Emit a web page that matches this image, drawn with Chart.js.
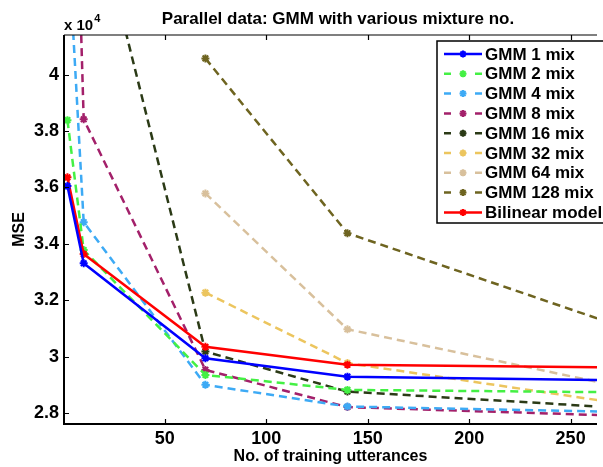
<!DOCTYPE html>
<html>
<head>
<meta charset="utf-8">
<script src="https://cdn.jsdelivr.net/npm/chart.js@4/dist/chart.umd.min.js"></script>
<style>
  html, body { margin: 0; padding: 0; background: #fff; overflow: hidden; }
  #wrap { width: 603px; height: 467px; }
</style>
</head>
<body>
<div id="wrap"><canvas id="mseChart" width="603" height="467"></canvas></div>
<script>
// No. of training utterances
const xValues = [2, 10, 70, 140, 280];
const yTickValues = [28000, 30000, 32000, 34000, 36000, 38000, 40000];

// MSE values (x 10^4 shown on axis)
const gmm1 = [36050, 33310, 29940, 29290, 29150];
const gmm2 = [38390, 33780, 29350, 28820, 28730];
const gmm4 = [45200, 34770, 29000, 28230, 28030];
const gmm8 = [58000, 38420, 29530, 28210, 27890];
const gmm16 = [51000, 47500, 30180, 28760, 28160];
const gmm32 = [null, null, 32270, 29770, 28280];
const gmm64 = [null, null, 35790, 30970, 28850];
const gmm128 = [null, null, 40580, 34380, 30940];
const bilinear = [36360, 33640, 30350, 29710, 29610];

const seriesLabels = ['GMM 1 mix', 'GMM 2 mix', 'GMM 4 mix', 'GMM 8 mix', 'GMM 16 mix',
                      'GMM 32 mix', 'GMM 64 mix', 'GMM 128 mix', 'Bilinear model'];
const seriesData = [gmm1, gmm2, gmm4, gmm8, gmm16, gmm32, gmm64, gmm128, bilinear];
const seriesColors = ['#0000ff', '#44f044', '#3daaf5', '#a3206a', '#2b3a16',
                      '#ecc55e', '#d8c09c', '#6e6420', '#ff0000'];
const seriesDashed = [false, true, true, true, true, true, true, true, false];

const chartTitle = 'Parallel data: GMM with various mixture no.';
const FONT = '"Liberation Sans", Arial, Helvetica, sans-serif';

function drawStar(ctx, cx, cy, r) {
    ctx.beginPath();
    ctx.moveTo(cx - r, cy); ctx.lineTo(cx + r, cy);
    ctx.moveTo(cx, cy - r); ctx.lineTo(cx, cy + r);
    const d = r * 0.72;
    ctx.moveTo(cx - d, cy - d); ctx.lineTo(cx + d, cy + d);
    ctx.moveTo(cx - d, cy + d); ctx.lineTo(cx + d, cy - d);
    ctx.stroke();
}

// matlab style frame, inward ticks, title, exponent and legend box
const framePlugin = {
    id: 'frame',
    afterDraw(chart) {
        const { ctx, chartArea: a, scales: { x, y } } = chart;
        ctx.save();
        ctx.strokeStyle = '#000';
        ctx.lineWidth = 2;
        ctx.setLineDash([]);
        ctx.beginPath();
        ctx.moveTo(a.left, a.top); ctx.lineTo(a.left, a.bottom); ctx.lineTo(a.right, a.bottom);
        ctx.stroke();
        ctx.lineWidth = 1.2;
        ctx.beginPath();
        ctx.moveTo(a.left, a.top); ctx.lineTo(a.right, a.top);
        x.ticks.forEach(t => {
            const px = Math.round(x.getPixelForValue(t.value)) + 0.5;
            ctx.moveTo(px, a.bottom); ctx.lineTo(px, a.bottom - 5);
            ctx.moveTo(px, a.top); ctx.lineTo(px, a.top + 5);
        });
        y.ticks.forEach(t => {
            const py = Math.round(y.getPixelForValue(t.value)) + 0.5;
            ctx.moveTo(a.left, py); ctx.lineTo(a.left + 5, py);
        });
        ctx.stroke();

        ctx.fillStyle = '#000';
        // title
        ctx.textAlign = 'center';
        ctx.textBaseline = 'alphabetic';
        ctx.font = 'bold 17px ' + FONT;
        ctx.fillText(chartTitle, 338, 24);

        // x 10^4
        ctx.textAlign = 'left';
        ctx.font = 'bold 15px ' + FONT;
        ctx.fillText('x 10', 64, 30);
        const w = ctx.measureText('x 10').width;
        ctx.font = 'bold 11px ' + FONT;
        ctx.fillText('4', 64 + w + 1, 22);

        // legend
        const bx = 437, by = 41, bw = 175, bh = 182;
        ctx.fillStyle = '#fff';
        ctx.fillRect(bx, by, bw, bh);
        ctx.strokeStyle = '#000';
        ctx.lineWidth = 1.5;
        ctx.strokeRect(bx, by, bw, bh);
        ctx.font = 'bold 17px ' + FONT;
        ctx.textBaseline = 'middle';
        seriesLabels.forEach((lbl, i) => {
            const ly = 54 + i * 19.8;
            ctx.strokeStyle = seriesColors[i];
            ctx.lineWidth = 2.5;
            ctx.beginPath();
            if (seriesDashed[i]) {
                ctx.moveTo(444, ly); ctx.lineTo(451, ly);
                ctx.moveTo(475, ly); ctx.lineTo(482, ly);
            } else {
                ctx.moveTo(444, ly); ctx.lineTo(482, ly);
            }
            ctx.stroke();
            ctx.lineWidth = 2;
            drawStar(ctx, 463, ly, 3.5);
            ctx.fillStyle = '#000';
            ctx.fillText(lbl, 485, ly + 1);
        });
        ctx.restore();
    }
};

const datasets = seriesLabels.map((lbl, i) => ({
    label: lbl,
    data: xValues.map((xv, j) => ({ x: xv, y: seriesData[i][j] })),
    borderColor: seriesColors[i],
    backgroundColor: seriesColors[i],
    borderWidth: 2.5,
    borderDash: seriesDashed[i] ? [8, 5] : [],
    pointStyle: 'star',
    pointRadius: 4,
    pointBorderWidth: 2,
    pointBorderColor: seriesColors[i],
    tension: 0,
    spanGaps: false,
    order: seriesDashed[i] ? 1 : 0
}));

const ctx = document.getElementById('mseChart').getContext('2d');
const mseChart = new Chart(ctx, {
    type: 'line',
    data: { datasets: datasets },
    options: {
        responsive: false,
        animation: false,
        layout: { padding: { top: 35, left: 0, right: 0, bottom: 0 } },
        scales: {
            x: {
                type: 'linear',
                min: 0.3,
                max: 263,
                grid: { display: false, drawTicks: false },
                border: { display: false },
                ticks: {
                    stepSize: 50,
                    includeBounds: false,
                    maxRotation: 0,
                    padding: 4,
                    color: '#000',
                    font: { family: FONT, size: 18, weight: 'bold' }
                },
                title: {
                    display: true,
                    text: 'No. of training utterances',
                    color: '#000',
                    padding: { top: 0, bottom: 1 },
                    font: { family: FONT, size: 16, weight: 'bold' }
                },
                afterFit: function(scale) { scale.height = 43; }
            },
            y: {
                type: 'linear',
                min: 27610,
                max: 41410,
                grid: { display: false, drawTicks: false },
                border: { display: false },
                afterBuildTicks: function(scale) {
                    scale.ticks = yTickValues.map(v => ({ value: v }));
                },
                ticks: {
                    padding: 5,
                    color: '#000',
                    font: { family: FONT, size: 18, weight: 'bold' },
                    callback: function(value) {
                        return parseFloat((value / 1e4).toFixed(1)).toString();
                    }
                },
                title: {
                    display: true,
                    text: 'MSE',
                    color: '#000',
                    padding: { top: 10, bottom: 0 },
                    font: { family: FONT, size: 16, weight: 'bold' }
                },
                afterFit: function(scale) { scale.width = 64; }
            }
        },
        plugins: {
            legend: { display: false },
            tooltip: { enabled: false },
            title: { display: false }
        }
    },
    plugins: [framePlugin]
});
</script>
</body>
</html>
